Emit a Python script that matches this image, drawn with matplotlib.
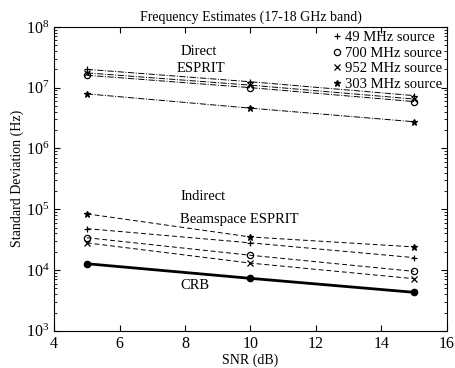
import numpy as np
import matplotlib
matplotlib.use('Agg')
import matplotlib.pyplot as plt

plt.rcParams['font.family'] = ['Liberation Serif', 'DejaVu Serif']
plt.rcParams['mathtext.fontset'] = 'stix'

# ── Data ──
snr = [5, 10, 15]
sources = ["49 MHz source", "700 MHz source", "952 MHz source", "303 MHz source"]
markers = ["+", "o", "x", "*"]

direct_49 = [2.0e7, 1.25e7, 7.4e6]
direct_700 = [1.6e7, 1.0e7, 5.9e6]
direct_952 = [1.75e7, 1.1e7, 6.5e6]
direct_303 = [7.9e6, 4.6e6, 2.75e6]

beam_49 = [4.8e4, 2.8e4, 1.6e4]
beam_700 = [3.4e4, 1.75e4, 9.5e3]
beam_952 = [2.8e4, 1.3e4, 7.2e3]
beam_303 = [8.4e4, 3.5e4, 2.4e4]

crb = [1.27e4, 7.3e3, 4.3e3]

direct = [direct_49, direct_700, direct_952, direct_303]
beam = [beam_49, beam_700, beam_952, beam_303]

fig = plt.figure(figsize=(4.55, 3.68), dpi=100)
ax = fig.add_axes([0.119, 0.101, 0.863, 0.826])

handles = []
for vals, m in zip(direct, markers):
    ax.plot(snr, vals, color="black", linestyle="-.", linewidth=0.7,
            marker=m, markersize=4.5, markeredgewidth=0.9,
            fillstyle="none" if m == "o" else "full")
for vals, m, lab in zip(beam, markers, sources):
    h, = ax.plot(snr, vals, color="black", linestyle=(0, (5, 3)), linewidth=0.7,
                 marker=m, markersize=4.5, markeredgewidth=0.9,
                 fillstyle="none" if m == "o" else "full", label=lab)
    handles.append(h)
ax.plot(snr, crb, color="black", linewidth=2.0, marker="o", markersize=4.5)

ax.set_yscale("log")
ax.set_xlim(4, 16)
ax.set_ylim(1e3, 1e8)
ax.set_xticks([4, 6, 8, 10, 12, 14, 16])
ax.set_yticks([1e3, 1e4, 1e5, 1e6, 1e7, 1e8])
ax.tick_params(which="both", direction="in", top=True, right=True, labelsize=11.5)
ax.tick_params(which="major", length=4)
ax.tick_params(which="minor", length=2)

ax.set_title("Frequency Estimates (17-18 GHz band)", fontsize=10, pad=4)
ax.set_xlabel("SNR (dB)", fontsize=10, labelpad=1)
ax.set_ylabel("Standard Deviation (Hz)", fontsize=10, labelpad=1)

ax.text(7.85, 4.0e7, "Direct", fontsize=10.5, va="center")
ax.text(7.75, 2.1e7, "ESPRIT", fontsize=10.5, va="center")
ax.text(7.85, 1.6e5, "Indirect", fontsize=10.5, va="center")
ax.text(7.85, 6.9e4, "Beamspace ESPRIT", fontsize=10.5, va="center")
ax.text(7.85, 5.5e3, "CRB", fontsize=10.5, va="center")

leg = ax.legend(handles=handles, loc="upper right", frameon=False,
                handlelength=0.6, handletextpad=0.3, labelspacing=0.15,
                fontsize=10.5, borderaxespad=0.2, borderpad=0.1)
for h in leg.legend_handles:
    h.set_linestyle("None")

for s in ax.spines.values():
    s.set_linewidth(0.8)

fig.savefig("out.png", dpi=100)
